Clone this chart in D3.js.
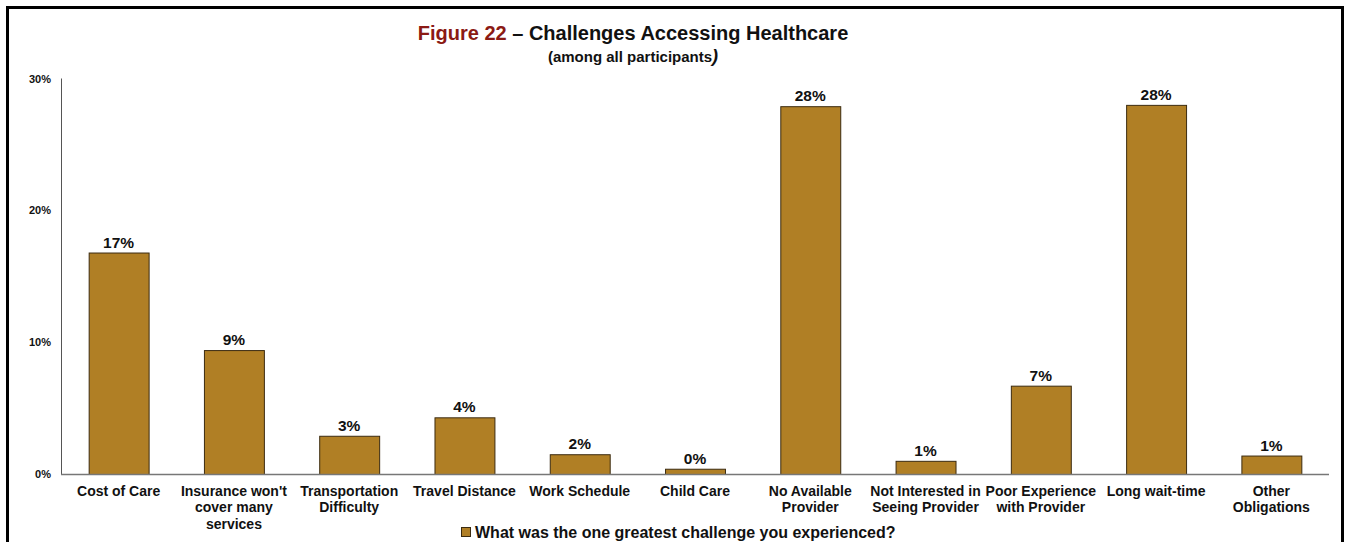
<!DOCTYPE html>
<html><head><meta charset="utf-8">
<script src="https://cdn.jsdelivr.net/npm/d3@7"></script>
<style>body{margin:0;background:#fff}svg{display:block;font-family:Arial,"Liberation Sans",sans-serif}</style>
</head><body><svg id="c" width="1349" height="542"></svg>
<script>
const categories = [
  ["Cost of Care"],
  ["Insurance won't","cover many","services"],
  ["Transportation","Difficulty"],
  ["Travel Distance"],
  ["Work Schedule"],
  ["Child Care"],
  ["No Available","Provider"],
  ["Not Interested in","Seeing Provider"],
  ["Poor Experience","with Provider"],
  ["Long wait-time"],
  ["Other","Obligations"]
];
const values = [16.8, 9.4, 2.9, 4.3, 1.5, 0.4, 27.9, 1.0, 6.7, 28.0, 1.4];
const valueLabels = ["17%","9%","3%","4%","2%","0%","28%","1%","7%","28%","1%"];
const yTicks = [0, 10, 20, 30];
const seriesName = "What was the one greatest challenge you experienced?";

const svg = d3.select("#c");
// frame
svg.append("path").attr("d","M7.5,545 V7.5 H1342.5 V545").attr("fill","none").attr("stroke","#000").attr("stroke-width",3);

const x = d3.scaleBand().domain(d3.range(categories.length)).range([61,1329]).paddingInner(0.48).paddingOuter(0.24);
const y = d3.scaleLinear().domain([0,30]).range([474,78.5]);

// y axis
svg.append("line").attr("x1",61.5).attr("x2",61.5).attr("y1",y(30)).attr("y2",y(0)).attr("stroke","#555").attr("stroke-width",1);
svg.selectAll(".yt").data(yTicks).join("text")
  .attr("x",51).attr("y",d=>y(d)+4).attr("text-anchor","end")
  .attr("font-size",11).attr("font-weight","bold").attr("fill","#111").text(d=>d+"%");

// bars
svg.selectAll(".bar").data(values).join("rect")
  .attr("x",(d,i)=>x(i)+0.5).attr("y",d=>y(d)+0.5).attr("width",x.bandwidth()).attr("height",d=>y(0)-y(d))
  .attr("fill","#B07F25").attr("stroke","#3b2b10").attr("stroke-width",1);

// x axis line
svg.append("line").attr("x1",61).attr("x2",1329).attr("y1",y(0)+0.5).attr("y2",y(0)+0.5).attr("stroke","#777").attr("stroke-width",1.5);

// value labels
svg.selectAll(".vl").data(values).join("text")
  .attr("x",(d,i)=>x(i)+x.bandwidth()/2).attr("y",d=>y(d)-5).attr("text-anchor","middle")
  .attr("font-size",15.5).attr("font-weight","bold").attr("fill","#111").text((d,i)=>valueLabels[i]);

// category labels
const cl = svg.selectAll(".cl").data(categories).join("text")
  .attr("text-anchor","middle").attr("font-size",14).attr("font-weight","bold").attr("fill","#111");
cl.each(function(lines,i){
  d3.select(this).selectAll("tspan").data(lines).join("tspan")
    .attr("x",x(i)+x.bandwidth()/2).attr("y",(l,j)=>496+j*16.3).text(l=>l);
});

// title
const t = svg.append("text").attr("x",633).attr("y",40).attr("text-anchor","middle").attr("font-size",20).attr("font-weight","bold");
t.append("tspan").attr("fill","#8B1A14").text("Figure 22");
t.append("tspan").attr("fill","#111").text(" \u2013 Challenges Accessing Healthcare");
const st = svg.append("text").attr("x",633).attr("y",62).attr("text-anchor","middle").attr("font-size",15).attr("font-weight","bold").attr("fill","#111");
st.append("tspan").text("(among all participants");
st.append("tspan").attr("font-style","italic").attr("font-size",18).text(")");

// legend
svg.append("rect").attr("x",461.5).attr("y",527.5).attr("width",9).attr("height",9).attr("fill","#B07F25").attr("stroke","#3b2b10");
svg.append("text").attr("x",475).attr("y",537.5).attr("font-size",16).attr("font-weight","bold").attr("fill","#111").text(seriesName);
</script></body></html>
